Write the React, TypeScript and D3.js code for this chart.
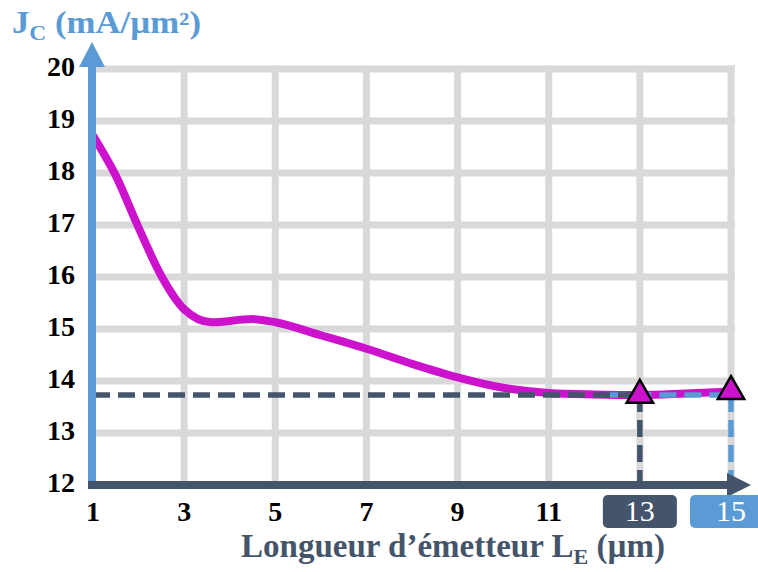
import React from "react";
import * as d3 from "d3";

const lengths = [1, 1.5, 2, 2.5, 3, 3.6, 4.5, 5, 6, 7, 8, 9, 10, 11, 12, 13, 14, 15];
const jc = [18.72, 17.95, 16.95, 16.02, 15.38, 15.13, 15.19, 15.13, 14.88, 14.62, 14.33, 14.07, 13.87, 13.77, 13.74, 13.73, 13.76, 13.8];
const xTicks = [1, 3, 5, 7, 9, 11, 13, 15];
const yTicks = [12, 13, 14, 15, 16, 17, 18, 19, 20];
const markerX = [13, 15];
const markerY = [13.73, 13.8];
const refLevel = 13.73;

const W = 758;
const H = 572;
const FONT = "'Liberation Serif', 'Times New Roman', serif";
const MAG = "#cc12cc";
const DARK = "#44546a";
const BLUE = "#5b9bd5";
const GRID = "#d9d9d9";

export default function App() {
  const x = d3.scaleLinear().domain([1, 15]).range([93, 731]);
  const y = d3.scaleLinear().domain([12, 20]).range([485, 69]);
  const line = d3
    .line<number>()
    .x((_, i) => x(lengths[i]))
    .y((d) => y(d))
    .curve(d3.curveMonotoneX);
  const tri = d3.symbol().type(d3.symbolTriangle).size(300)();

  return (
    <svg width={W} height={H} style={{ position: "absolute", left: 0, top: 0, background: "#fff" }} fontFamily={FONT}>
      {/* grid */}
      {yTicks.slice(1).map((t) => (
        <line key={"h" + t} x1={x(1)} x2={x(15) + 4} y1={y(t)} y2={y(t)} stroke={GRID} strokeWidth={7} />
      ))}
      {xTicks.slice(1).map((t) => (
        <line key={"v" + t} x1={x(t)} x2={x(t)} y1={y(20) - 3.5} y2={y(12)} stroke={GRID} strokeWidth={7} />
      ))}
      {/* curve */}
      <path d={line(jc) || ""} fill="none" stroke={MAG} strokeWidth={8} strokeLinejoin="round" />
      {/* reference dashed lines */}
      <line x1={x(12.2)} x2={x(15)} y1={y(refLevel)} y2={y(refLevel)} stroke={BLUE} strokeWidth={5.5} strokeDasharray="17 8" strokeDashoffset={-6} />
      <line x1={x(1)} x2={x(13)} y1={y(refLevel)} y2={y(refLevel)} stroke={DARK} strokeWidth={5.5} strokeDasharray="17 8" />
      <line x1={x(13)} x2={x(13)} y1={y(refLevel)} y2={y(12)} stroke={DARK} strokeWidth={5.5} strokeDasharray="17 8" />
      <line x1={x(15)} x2={x(15)} y1={y(refLevel)} y2={y(12) + 12} stroke={BLUE} strokeWidth={5.5} strokeDasharray="17 8" />
      {/* axes */}
      <line x1={92} x2={92} y1={y(12) + 4} y2={y(20) - 2} stroke={BLUE} strokeWidth={8} />
      <path d={`M79,${y(20) - 2} L105,${y(20) - 2} L92,42 Z`} fill={BLUE} />
      <line x1={88} x2={727} y1={y(12)} y2={y(12)} stroke={DARK} strokeWidth={8} />
      <path d={`M727,${y(12) - 12} L727,${y(12) + 12} L751,${y(12)} Z`} fill={DARK} />
      {/* markers */}
      {markerX.map((mx, i) => (
        <path key={"m" + mx} d={tri || ""} transform={`translate(${x(mx)},${y(markerY[i])})`} fill={MAG} stroke="#000" strokeWidth={2.5} strokeLinejoin="miter" />
      ))}
      {/* y tick labels */}
      {yTicks.map((t) => (
        <text key={"yl" + t} x={75} y={y(t) + 7} textAnchor="end" fontSize={28} fontWeight="bold" fill="#000">
          {t}
        </text>
      ))}
      {/* x tick labels */}
      <rect x={x(13) - 37} y={495} width={74} height={33} rx={5} fill={DARK} />
      <rect x={x(15) - 41} y={495} width={82} height={33} rx={5} fill={BLUE} />
      {xTicks.map((t) => (
        <text key={"xl" + t} x={x(t)} y={t >= 13 ? 521 : 521} textAnchor="middle" fontSize={t >= 13 ? 30 : 28} fontWeight={t >= 13 ? "normal" : "bold"} fill={t >= 13 ? "#fff" : "#000"}>
          {t}
        </text>
      ))}
      {/* axis titles */}
      <g transform="translate(12,33) scale(1.12,1)">
        <text x={0} y={0} fontSize={31} fontWeight="bold" fill={BLUE}>
          J<tspan fontSize={21} dy={7}>C</tspan>
          <tspan dy={-7}> (mA/µm²)</tspan>
        </text>
      </g>
      <text x={453} y={557} textAnchor="middle" fontSize={33} fontWeight="bold" fill={DARK}>
        Longueur d’émetteur L<tspan fontSize={22} dy={7}>E</tspan>
        <tspan dy={-7}> (µm)</tspan>
      </text>
    </svg>
  );
}
